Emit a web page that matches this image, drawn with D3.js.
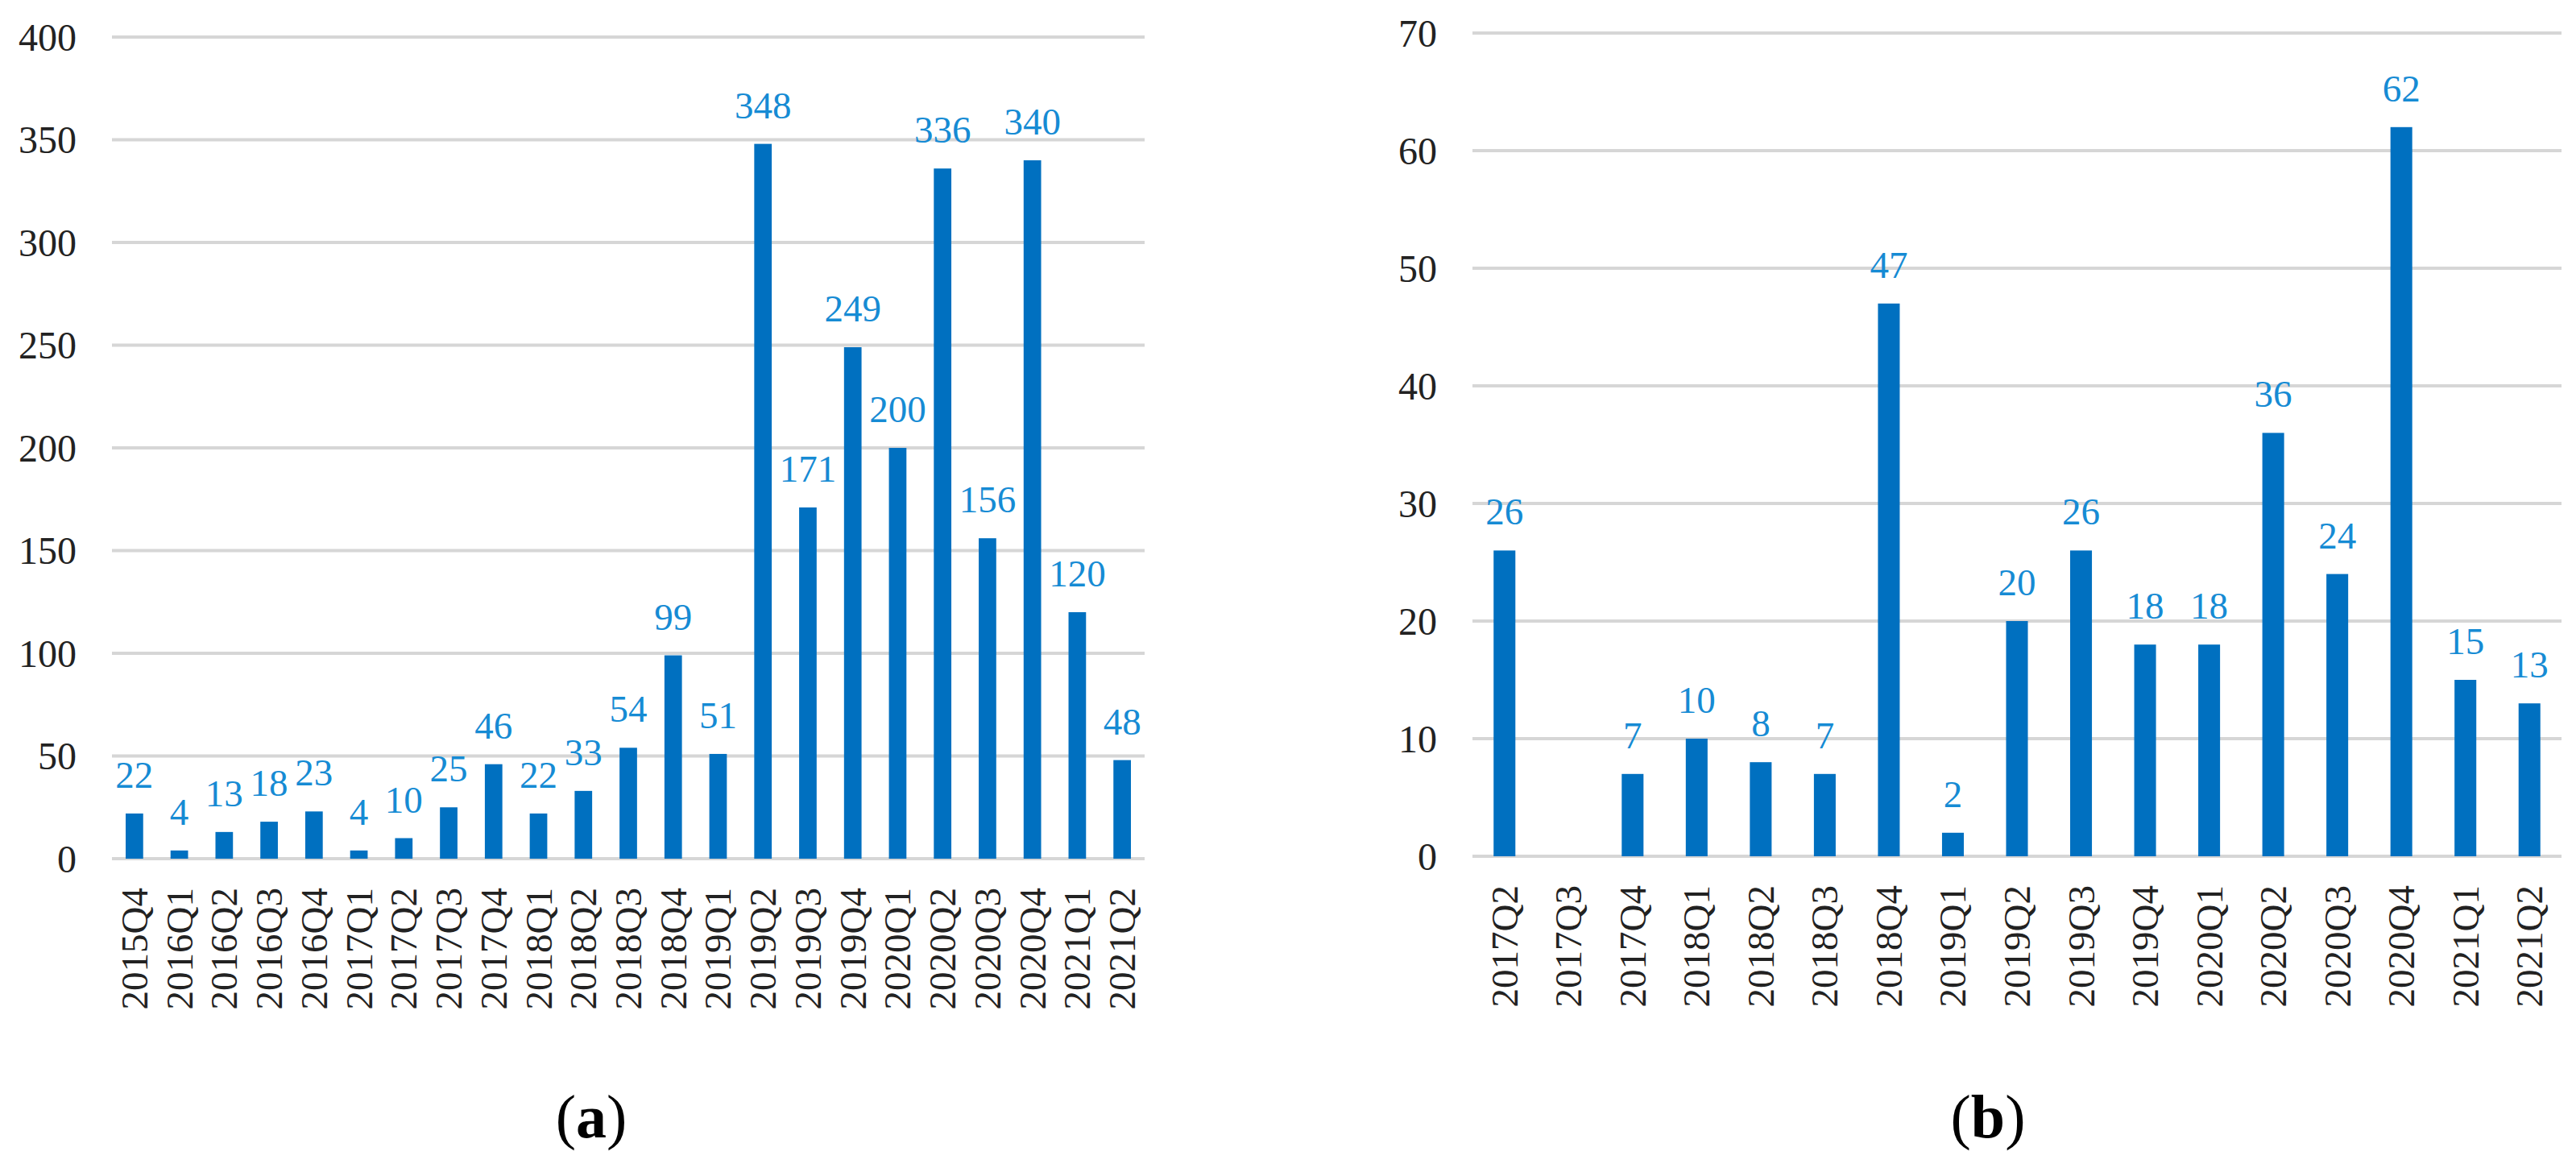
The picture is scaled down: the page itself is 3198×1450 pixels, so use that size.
<!DOCTYPE html>
<html lang="en">
  <head>
    <meta charset="utf-8">
    <title>Quarterly counts</title>
    <script src="https://d3js.org/d3.v7.min.js"></script>
    <style>
      body { margin: 0; background: #fff; }
    </style>
  </head>
  <body>
    <script type="text/javascript">
      // panel (a)
      const quartersA = ["2015Q4","2016Q1","2016Q2","2016Q3","2016Q4","2017Q1","2017Q2","2017Q3","2017Q4",
        "2018Q1","2018Q2","2018Q3","2018Q4","2019Q1","2019Q2","2019Q3","2019Q4","2020Q1","2020Q2",
        "2020Q3","2020Q4","2021Q1","2021Q2"];
      const valuesA = [22, 4, 13, 18, 23, 4, 10, 25, 46, 22, 33, 54, 99, 51, 348, 171, 249, 200, 336, 156, 340, 120, 48];
      const ticksA = [0, 50, 100, 150, 200, 250, 300, 350, 400];

      // panel (b) -- 2017Q3 has no value
      const quartersB = ["2017Q2","2017Q3","2017Q4","2018Q1","2018Q2","2018Q3","2018Q4","2019Q1","2019Q2",
        "2019Q3","2019Q4","2020Q1","2020Q2","2020Q3","2020Q4","2021Q1","2021Q2"];
      const valuesB = [26, null, 7, 10, 8, 7, 47, 2, 20, 26, 18, 18, 36, 24, 62, 15, 13];
      const ticksB = [0, 10, 20, 30, 40, 50, 60, 70];

      const svgWidth = 3198;
      const svgHeight = 1450;
      const font = "'Liberation Serif', 'Times New Roman', serif";
      const barColor = "#0070C0";
      const labelColor = "#168BD4";
      const gridColor = "#d6d6d6";

      const svg = d3.select("body")
        .append("svg")
        .attr("width", svgWidth)
        .attr("height", svgHeight);

      function drawPanel(opts) {
        const g = svg.append("g").attr("class", "panel");

        const x = d3.scaleBand()
          .domain(opts.cats)
          .range([opts.left, opts.right])
          .paddingInner(opts.pad)
          .paddingOuter(opts.pad / 2);

        const y = d3.scaleLinear()
          .domain([0, d3.max(opts.ticks)])
          .range([opts.bottom, opts.top]);

        // gridlines
        g.append("g")
          .selectAll("line")
          .data(opts.ticks)
          .enter()
          .append("line")
          .attr("x1", opts.left)
          .attr("x2", opts.right)
          .attr("y1", d => y(d))
          .attr("y2", d => y(d))
          .attr("stroke", gridColor)
          .attr("stroke-width", 4);

        // y axis labels
        const yAxis = g.append("g")
          .attr("transform", `translate(${opts.left - 44},0)`)
          .call(d3.axisLeft(y).tickValues(opts.ticks).tickSize(0).tickPadding(0));
        yAxis.select(".domain").remove();
        yAxis.selectAll("text")
          .attr("font-family", font)
          .attr("font-size", "48px")
          .attr("fill", "#222")
          .attr("dy", "0.34em");

        // x axis labels, rotated
        const xAxis = g.append("g")
          .attr("transform", `translate(0,${opts.bottom})`)
          .call(d3.axisBottom(x).tickSize(0).tickPadding(0));
        xAxis.select(".domain").remove();
        xAxis.selectAll("text")
          .attr("font-family", font)
          .attr("font-size", "47px")
          .attr("fill", "#222")
          .attr("transform", "rotate(-90)")
          .attr("text-anchor", "end")
          .attr("x", -36)
          .attr("y", 0)
          .attr("dy", "0.34em");

        const data = opts.cats.map((c, i) => ({ cat: c, val: opts.vals[i] }))
          .filter(d => d.val !== null);

        g.append("g")
          .selectAll("rect")
          .data(data)
          .enter()
          .append("rect")
          .attr("x", d => x(d.cat))
          .attr("y", d => y(d.val))
          .attr("width", x.bandwidth())
          .attr("height", d => y(0) - y(d.val))
          .attr("fill", barColor);

        g.append("g")
          .selectAll("text")
          .data(data)
          .enter()
          .append("text")
          .attr("x", d => x(d.cat) + x.bandwidth() / 2)
          .attr("y", d => y(d.val) - 32)
          .attr("text-anchor", "middle")
          .attr("font-family", font)
          .attr("font-size", "47px")
          .attr("fill", labelColor)
          .text(d => d.val);

        // panel caption
        const cap = g.append("text")
          .attr("x", opts.capX)
          .attr("y", 1412)
          .attr("text-anchor", "middle")
          .attr("font-family", font)
          .attr("font-size", "76px")
          .attr("fill", "#000");
        cap.append("tspan").text("(");
        cap.append("tspan").attr("font-weight", "bold").text(opts.caption);
        cap.append("tspan").text(")");
      }

      drawPanel({
        cats: quartersA, vals: valuesA, ticks: ticksA,
        left: 139, right: 1421, top: 46, bottom: 1066,
        pad: 0.61, caption: "a", capX: 734
      });

      drawPanel({
        cats: quartersB, vals: valuesB, ticks: ticksB,
        left: 1828, right: 3180, top: 41, bottom: 1063,
        pad: 0.66, caption: "b", capX: 2468
      });
    </script>
  </body>
</html>
